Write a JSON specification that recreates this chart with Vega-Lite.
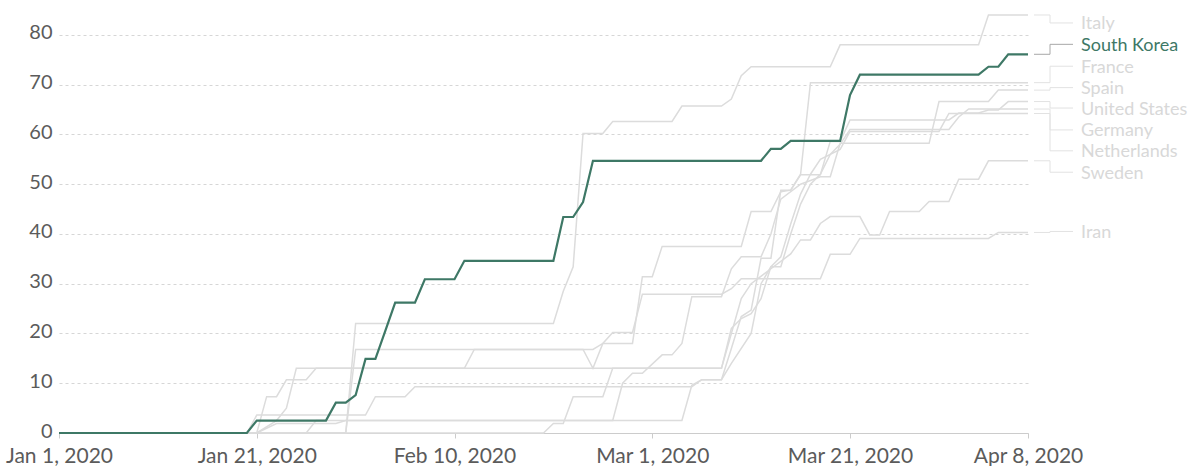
{
  "$schema": "https://vega.github.io/schema/vega-lite/v6.json",
  "width": 969,
  "height": 423,
  "autosize": {"type": "none"},
  "padding": {"left": 59, "top": 10, "right": 168, "bottom": 33},
  "background": "white",
  "config": {"view": {"stroke": null}, "font": "Lato"},
  "datasets": {
    "series": [
      {"country":"Italy","date":"2020-01-01","value":0},
      {"country":"Italy","date":"2020-01-30","value":0},
      {"country":"Italy","date":"2020-01-31","value":22.0},
      {"country":"Italy","date":"2020-02-20","value":22.0},
      {"country":"Italy","date":"2020-02-21","value":28.5},
      {"country":"Italy","date":"2020-02-22","value":33.4},
      {"country":"Italy","date":"2020-02-23","value":60.2},
      {"country":"Italy","date":"2020-02-25","value":60.2},
      {"country":"Italy","date":"2020-02-26","value":62.6},
      {"country":"Italy","date":"2020-03-03","value":62.6},
      {"country":"Italy","date":"2020-03-04","value":65.7},
      {"country":"Italy","date":"2020-03-08","value":65.7},
      {"country":"Italy","date":"2020-03-09","value":67.1},
      {"country":"Italy","date":"2020-03-10","value":71.8},
      {"country":"Italy","date":"2020-03-11","value":73.6},
      {"country":"Italy","date":"2020-03-19","value":73.6},
      {"country":"Italy","date":"2020-03-20","value":78.0},
      {"country":"Italy","date":"2020-04-03","value":78.0},
      {"country":"Italy","date":"2020-04-04","value":84.0},
      {"country":"Italy","date":"2020-04-08","value":84.0},

      {"country":"France","date":"2020-01-01","value":0},
      {"country":"France","date":"2020-01-21","value":0},
      {"country":"France","date":"2020-01-22","value":7.3},
      {"country":"France","date":"2020-01-23","value":7.3},
      {"country":"France","date":"2020-01-24","value":10.7},
      {"country":"France","date":"2020-01-26","value":10.7},
      {"country":"France","date":"2020-01-27","value":13.0},
      {"country":"France","date":"2020-02-11","value":13.0},
      {"country":"France","date":"2020-02-12","value":16.8},
      {"country":"France","date":"2020-02-24","value":16.8},
      {"country":"France","date":"2020-02-25","value":18.0},
      {"country":"France","date":"2020-02-28","value":18.0},
      {"country":"France","date":"2020-02-29","value":31.4},
      {"country":"France","date":"2020-03-01","value":31.4},
      {"country":"France","date":"2020-03-02","value":37.5},
      {"country":"France","date":"2020-03-10","value":37.5},
      {"country":"France","date":"2020-03-11","value":44.5},
      {"country":"France","date":"2020-03-13","value":44.5},
      {"country":"France","date":"2020-03-14","value":48.5},
      {"country":"France","date":"2020-03-15","value":48.8},
      {"country":"France","date":"2020-03-16","value":52.0},
      {"country":"France","date":"2020-03-17","value":70.4},
      {"country":"France","date":"2020-04-08","value":70.4},

      {"country":"Iran","date":"2020-01-01","value":0},
      {"country":"Iran","date":"2020-01-30","value":0},
      {"country":"Iran","date":"2020-01-31","value":16.8},
      {"country":"Iran","date":"2020-02-23","value":16.8},
      {"country":"Iran","date":"2020-02-24","value":13.0},
      {"country":"Iran","date":"2020-02-25","value":18.0},
      {"country":"Iran","date":"2020-02-26","value":20.2},
      {"country":"Iran","date":"2020-02-28","value":20.2},
      {"country":"Iran","date":"2020-02-29","value":27.9},
      {"country":"Iran","date":"2020-03-08","value":27.9},
      {"country":"Iran","date":"2020-03-09","value":29.0},
      {"country":"Iran","date":"2020-03-10","value":31.0},
      {"country":"Iran","date":"2020-03-18","value":31.0},
      {"country":"Iran","date":"2020-03-19","value":35.9},
      {"country":"Iran","date":"2020-03-21","value":35.9},
      {"country":"Iran","date":"2020-03-22","value":39.1},
      {"country":"Iran","date":"2020-04-04","value":39.1},
      {"country":"Iran","date":"2020-04-05","value":40.3},
      {"country":"Iran","date":"2020-04-08","value":40.3},

      {"country":"Sweden","date":"2020-01-01","value":0},
      {"country":"Sweden","date":"2020-01-21","value":0},
      {"country":"Sweden","date":"2020-01-23","value":2.5},
      {"country":"Sweden","date":"2020-01-24","value":5.0},
      {"country":"Sweden","date":"2020-01-25","value":13.0},
      {"country":"Sweden","date":"2020-03-08","value":13.0},
      {"country":"Sweden","date":"2020-03-09","value":20.0},
      {"country":"Sweden","date":"2020-03-10","value":27.0},
      {"country":"Sweden","date":"2020-03-11","value":30.0},
      {"country":"Sweden","date":"2020-03-13","value":33.0},
      {"country":"Sweden","date":"2020-03-15","value":36.0},
      {"country":"Sweden","date":"2020-03-16","value":38.8},
      {"country":"Sweden","date":"2020-03-17","value":38.8},
      {"country":"Sweden","date":"2020-03-18","value":42.1},
      {"country":"Sweden","date":"2020-03-19","value":43.5},
      {"country":"Sweden","date":"2020-03-22","value":43.5},
      {"country":"Sweden","date":"2020-03-23","value":39.8},
      {"country":"Sweden","date":"2020-03-24","value":39.8},
      {"country":"Sweden","date":"2020-03-25","value":44.5},
      {"country":"Sweden","date":"2020-03-28","value":44.5},
      {"country":"Sweden","date":"2020-03-29","value":46.5},
      {"country":"Sweden","date":"2020-03-31","value":46.5},
      {"country":"Sweden","date":"2020-04-01","value":51.0},
      {"country":"Sweden","date":"2020-04-03","value":51.0},
      {"country":"Sweden","date":"2020-04-04","value":54.7},
      {"country":"Sweden","date":"2020-04-08","value":54.7},

      {"country":"United States","date":"2020-01-01","value":0},
      {"country":"United States","date":"2020-01-20","value":0},
      {"country":"United States","date":"2020-01-21","value":3.6},
      {"country":"United States","date":"2020-02-01","value":3.6},
      {"country":"United States","date":"2020-02-02","value":7.3},
      {"country":"United States","date":"2020-02-05","value":7.3},
      {"country":"United States","date":"2020-02-06","value":9.3},
      {"country":"United States","date":"2020-03-05","value":9.3},
      {"country":"United States","date":"2020-03-06","value":10.7},
      {"country":"United States","date":"2020-03-08","value":10.7},
      {"country":"United States","date":"2020-03-09","value":17.0},
      {"country":"United States","date":"2020-03-10","value":23.4},
      {"country":"United States","date":"2020-03-11","value":24.7},
      {"country":"United States","date":"2020-03-12","value":35.1},
      {"country":"United States","date":"2020-03-13","value":35.1},
      {"country":"United States","date":"2020-03-14","value":48.8},
      {"country":"United States","date":"2020-03-15","value":48.8},
      {"country":"United States","date":"2020-03-16","value":51.9},
      {"country":"United States","date":"2020-03-18","value":51.9},
      {"country":"United States","date":"2020-03-19","value":58.6},
      {"country":"United States","date":"2020-03-20","value":58.6},
      {"country":"United States","date":"2020-03-21","value":62.9},
      {"country":"United States","date":"2020-03-31","value":62.9},
      {"country":"United States","date":"2020-04-01","value":64.3},
      {"country":"United States","date":"2020-04-03","value":64.3},
      {"country":"United States","date":"2020-04-04","value":64.9},
      {"country":"United States","date":"2020-04-05","value":64.9},
      {"country":"United States","date":"2020-04-06","value":66.6},
      {"country":"United States","date":"2020-04-08","value":66.6},

      {"country":"Spain","date":"2020-01-01","value":0},
      {"country":"Spain","date":"2020-01-26","value":0},
      {"country":"Spain","date":"2020-01-27","value":2.5},
      {"country":"Spain","date":"2020-02-26","value":2.5},
      {"country":"Spain","date":"2020-02-27","value":10.0},
      {"country":"Spain","date":"2020-02-28","value":12.0},
      {"country":"Spain","date":"2020-02-29","value":12.0},
      {"country":"Spain","date":"2020-03-02","value":15.7},
      {"country":"Spain","date":"2020-03-03","value":15.7},
      {"country":"Spain","date":"2020-03-04","value":18.0},
      {"country":"Spain","date":"2020-03-05","value":27.4},
      {"country":"Spain","date":"2020-03-08","value":27.4},
      {"country":"Spain","date":"2020-03-09","value":33.0},
      {"country":"Spain","date":"2020-03-10","value":35.4},
      {"country":"Spain","date":"2020-03-12","value":35.4},
      {"country":"Spain","date":"2020-03-13","value":40.0},
      {"country":"Spain","date":"2020-03-14","value":47.0},
      {"country":"Spain","date":"2020-03-16","value":50.0},
      {"country":"Spain","date":"2020-03-18","value":51.5},
      {"country":"Spain","date":"2020-03-19","value":51.5},
      {"country":"Spain","date":"2020-03-20","value":58.2},
      {"country":"Spain","date":"2020-03-29","value":58.2},
      {"country":"Spain","date":"2020-03-30","value":66.6},
      {"country":"Spain","date":"2020-04-04","value":66.6},
      {"country":"Spain","date":"2020-04-05","value":68.9},
      {"country":"Spain","date":"2020-04-08","value":68.9},

      {"country":"Germany","date":"2020-01-01","value":0},
      {"country":"Germany","date":"2020-02-19","value":0},
      {"country":"Germany","date":"2020-02-20","value":1.9},
      {"country":"Germany","date":"2020-02-21","value":1.9},
      {"country":"Germany","date":"2020-02-22","value":7.3},
      {"country":"Germany","date":"2020-02-25","value":7.3},
      {"country":"Germany","date":"2020-02-26","value":13.0},
      {"country":"Germany","date":"2020-03-08","value":13.0},
      {"country":"Germany","date":"2020-03-09","value":21.0},
      {"country":"Germany","date":"2020-03-10","value":23.0},
      {"country":"Germany","date":"2020-03-11","value":24.0},
      {"country":"Germany","date":"2020-03-12","value":27.0},
      {"country":"Germany","date":"2020-03-13","value":33.4},
      {"country":"Germany","date":"2020-03-14","value":33.4},
      {"country":"Germany","date":"2020-03-15","value":40.0},
      {"country":"Germany","date":"2020-03-16","value":46.0},
      {"country":"Germany","date":"2020-03-17","value":50.0},
      {"country":"Germany","date":"2020-03-18","value":52.0},
      {"country":"Germany","date":"2020-03-19","value":56.0},
      {"country":"Germany","date":"2020-03-20","value":58.0},
      {"country":"Germany","date":"2020-03-21","value":61.0},
      {"country":"Germany","date":"2020-03-31","value":61.0},
      {"country":"Germany","date":"2020-04-01","value":63.5},
      {"country":"Germany","date":"2020-04-02","value":65.1},
      {"country":"Germany","date":"2020-04-08","value":65.1},

      {"country":"Netherlands","date":"2020-01-01","value":0},
      {"country":"Netherlands","date":"2020-01-21","value":0},
      {"country":"Netherlands","date":"2020-01-23","value":1.9},
      {"country":"Netherlands","date":"2020-01-29","value":1.9},
      {"country":"Netherlands","date":"2020-01-30","value":2.5},
      {"country":"Netherlands","date":"2020-03-04","value":2.5},
      {"country":"Netherlands","date":"2020-03-05","value":9.6},
      {"country":"Netherlands","date":"2020-03-06","value":10.7},
      {"country":"Netherlands","date":"2020-03-08","value":10.7},
      {"country":"Netherlands","date":"2020-03-09","value":14.0},
      {"country":"Netherlands","date":"2020-03-11","value":20.0},
      {"country":"Netherlands","date":"2020-03-12","value":30.0},
      {"country":"Netherlands","date":"2020-03-13","value":33.4},
      {"country":"Netherlands","date":"2020-03-14","value":35.4},
      {"country":"Netherlands","date":"2020-03-15","value":42.0},
      {"country":"Netherlands","date":"2020-03-16","value":48.0},
      {"country":"Netherlands","date":"2020-03-17","value":52.0},
      {"country":"Netherlands","date":"2020-03-18","value":55.0},
      {"country":"Netherlands","date":"2020-03-20","value":57.0},
      {"country":"Netherlands","date":"2020-03-21","value":60.6},
      {"country":"Netherlands","date":"2020-03-30","value":60.6},
      {"country":"Netherlands","date":"2020-03-31","value":64.2},
      {"country":"Netherlands","date":"2020-04-08","value":64.2},

      {"country":"South Korea","date":"2020-01-01","value":0},
      {"country":"South Korea","date":"2020-01-20","value":0},
      {"country":"South Korea","date":"2020-01-21","value":2.5},
      {"country":"South Korea","date":"2020-01-28","value":2.5},
      {"country":"South Korea","date":"2020-01-29","value":6.1},
      {"country":"South Korea","date":"2020-01-30","value":6.1},
      {"country":"South Korea","date":"2020-01-31","value":7.6},
      {"country":"South Korea","date":"2020-02-01","value":14.9},
      {"country":"South Korea","date":"2020-02-02","value":14.9},
      {"country":"South Korea","date":"2020-02-03","value":20.5},
      {"country":"South Korea","date":"2020-02-04","value":26.2},
      {"country":"South Korea","date":"2020-02-06","value":26.2},
      {"country":"South Korea","date":"2020-02-07","value":30.9},
      {"country":"South Korea","date":"2020-02-10","value":30.9},
      {"country":"South Korea","date":"2020-02-11","value":34.6},
      {"country":"South Korea","date":"2020-02-20","value":34.6},
      {"country":"South Korea","date":"2020-02-21","value":43.4},
      {"country":"South Korea","date":"2020-02-22","value":43.4},
      {"country":"South Korea","date":"2020-02-23","value":46.4},
      {"country":"South Korea","date":"2020-02-24","value":54.7},
      {"country":"South Korea","date":"2020-03-12","value":54.7},
      {"country":"South Korea","date":"2020-03-13","value":57.1},
      {"country":"South Korea","date":"2020-03-14","value":57.1},
      {"country":"South Korea","date":"2020-03-15","value":58.7},
      {"country":"South Korea","date":"2020-03-20","value":58.7},
      {"country":"South Korea","date":"2020-03-21","value":67.9},
      {"country":"South Korea","date":"2020-03-22","value":72.0},
      {"country":"South Korea","date":"2020-04-03","value":72.0},
      {"country":"South Korea","date":"2020-04-04","value":73.6},
      {"country":"South Korea","date":"2020-04-05","value":73.6},
      {"country":"South Korea","date":"2020-04-06","value":76.1},
      {"country":"South Korea","date":"2020-04-08","value":76.1}
    ],
    "labels": [
      {"country":"Italy","end":84.0,"label":82.4},
      {"country":"South Korea","end":76.1,"label":78.1},
      {"country":"France","end":70.4,"label":73.7},
      {"country":"Spain","end":68.9,"label":69.4},
      {"country":"United States","end":66.6,"label":65.3},
      {"country":"Germany","end":65.1,"label":60.9},
      {"country":"Netherlands","end":64.2,"label":56.7},
      {"country":"Sweden","end":54.7,"label":52.4},
      {"country":"Iran","end":40.3,"label":40.5}
    ]
  },
  "layer": [
    {
      "data": {"name": "series"},
      "transform": [{"filter": "datum.country !== 'South Korea'"}],
      "mark": {"type": "line", "strokeWidth": 1.5, "color": "#dcdcdc"},
      "encoding": {
        "x": {
          "field": "date", "type": "temporal",
          "scale": {"type": "utc", "domain": [{"year": 2020, "month": 1, "date": 1, "utc": true}, {"year": 2020, "month": 4, "date": 8, "utc": true}]},
          "axis": {
            "title": null,
            "values": [
              {"year": 2020, "month": 1, "date": 1, "utc": true},
              {"year": 2020, "month": 1, "date": 21, "utc": true},
              {"year": 2020, "month": 2, "date": 10, "utc": true},
              {"year": 2020, "month": 3, "date": 1, "utc": true},
              {"year": 2020, "month": 3, "date": 21, "utc": true},
              {"year": 2020, "month": 4, "date": 8, "utc": true}
            ],
            "labelExpr": "utcFormat(datum.value, '%b %-d, %Y')",
            "grid": false,
            "domainColor": "#cccccc",
            "tickColor": "#cccccc",
            "tickSize": 5,
            "labelFontSize": 21,
            "labelColor": "#5b5b5b",
            "labelPadding": 7,
            "labelFlush": false,
            "labelOverlap": false
          }
        },
        "y": {
          "field": "value", "type": "quantitative",
          "scale": {"domain": [0, 85], "nice": false},
          "axis": {
            "title": null,
            "values": [0, 10, 20, 30, 40, 50, 60, 70, 80],
            "grid": true,
            "gridDash": [3, 3],
            "gridColor": "#d6d6d6",
            "domain": false,
            "ticks": false,
            "labelFontSize": 20,
            "labelColor": "#5b5b5b",
            "labelPadding": 7,
            "labelOffset": -2
          }
        },
        "detail": {"field": "country"}
      }
    },
    {
      "data": {"name": "series"},
      "transform": [{"filter": "datum.country === 'South Korea'"}],
      "mark": {"type": "line", "strokeWidth": 2.2, "color": "#3e7866"},
      "encoding": {
        "x": {"field": "date", "type": "temporal"},
        "y": {"field": "value", "type": "quantitative"}
      }
    },
    {
      "data": {"name": "labels"},
      "mark": {"type": "rule", "xOffset": 6, "x2Offset": 22, "strokeWidth": 1},
      "encoding": {
        "x": {"datum": {"year": 2020, "month": 4, "date": 8, "utc": true}, "type": "temporal"},
        "x2": {"datum": {"year": 2020, "month": 4, "date": 8, "utc": true}},
        "y": {"field": "end", "type": "quantitative"},
        "color": {"condition": {"test": "datum.country === 'South Korea'", "value": "#a8a8a8"}, "value": "#e2e2e2"}
      }
    },
    {
      "data": {"name": "labels"},
      "mark": {"type": "rule", "xOffset": 22, "strokeWidth": 1},
      "encoding": {
        "x": {"datum": {"year": 2020, "month": 4, "date": 8, "utc": true}, "type": "temporal"},
        "y": {"field": "end", "type": "quantitative"},
        "y2": {"field": "label"},
        "color": {"condition": {"test": "datum.country === 'South Korea'", "value": "#a8a8a8"}, "value": "#e2e2e2"}
      }
    },
    {
      "data": {"name": "labels"},
      "mark": {"type": "rule", "xOffset": 22, "x2Offset": 45, "strokeWidth": 1},
      "encoding": {
        "x": {"datum": {"year": 2020, "month": 4, "date": 8, "utc": true}, "type": "temporal"},
        "x2": {"datum": {"year": 2020, "month": 4, "date": 8, "utc": true}},
        "y": {"field": "label", "type": "quantitative"},
        "color": {"condition": {"test": "datum.country === 'South Korea'", "value": "#a8a8a8"}, "value": "#e2e2e2"}
      }
    },
    {
      "data": {"name": "labels"},
      "mark": {"type": "text", "align": "left", "baseline": "middle", "dx": 53, "dy": 1.5, "fontSize": 18},
      "encoding": {
        "x": {"datum": {"year": 2020, "month": 4, "date": 8, "utc": true}, "type": "temporal"},
        "y": {"field": "label", "type": "quantitative"},
        "text": {"field": "country"},
        "color": {"condition": {"test": "datum.country === 'South Korea'", "value": "#3e7866"}, "value": "#d8d8d8"}
      }
    }
  ]
}
